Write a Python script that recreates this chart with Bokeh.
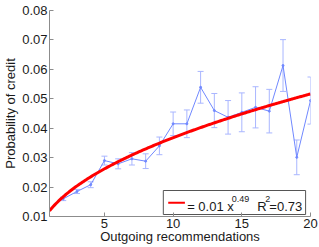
import numpy as np
from bokeh.plotting import figure
from bokeh.models import Range1d, FixedTicker, ColumnDataSource, Whisker, TeeHead
from bokeh.core.properties import value
from bokeh.embed import file_html
from bokeh.resources import INLINE

# ---- data ----
recommendations = [2, 3, 4, 5, 6, 7, 8, 9, 10, 11, 12, 13, 14, 15, 16, 17, 18, 19, 20]
prob_credit = [0.0160, 0.0185, 0.0208, 0.0290, 0.0279, 0.0296, 0.0288, 0.0340, 0.0415,
               0.0415, 0.0539, 0.0460, 0.0437, 0.0454, 0.0471, 0.0458, 0.0613, 0.0301, 0.0494]
prob_err = [0.0006, 0.0007, 0.0010, 0.0015, 0.0017, 0.0021, 0.0025, 0.0030, 0.0040,
            0.0047, 0.0054, 0.0058, 0.0057, 0.0066, 0.0070, 0.0074, 0.0088, 0.0059, 0.0080]
fit_coef = 0.0119
fit_exp = 0.49
fit_r2 = 0.73
fit_label_coef = "0.01"
x_ticks = [5, 10, 15, 20]
y_ticks = [0.01, 0.02, 0.03, 0.04, 0.05, 0.06, 0.07, 0.08]
x_label = "Outgoing recommendations"
y_label = "Probability of credit"

FONT = "Liberation Sans"
AXIS_COL = "#8c8c8c"
TXT_COL = "#1a1a1a"
LINE_COL = "#7088ff"
ERR_COL = "#a9b6ff"

W, H = 319, 247
BL, BR, BT, BB = 44, 9, 10, 31
X0, X1, Y0, Y1 = 1, 20, 0.01, 0.08
FW, FH = W - BL - BR, H - BT - BB
pxx = FW / (X1 - X0)   # pixels per x unit
pxy = FH / (Y1 - Y0)   # pixels per y unit

p = figure(width=W, height=H, output_backend="svg", toolbar_location=None,
           x_range=Range1d(X0, X1), y_range=Range1d(Y0, Y1),
           min_border_left=BL, min_border_right=BR, min_border_top=BT, min_border_bottom=BB)
p.outline_line_color = None
p.grid.visible = False
p.background_fill_color = "white"

for ax in (p.xaxis[0], p.yaxis[0]):
    ax.axis_line_color = AXIS_COL
    ax.major_tick_line_color = AXIS_COL
    ax.major_tick_in = 4
    ax.major_tick_out = 0
    ax.minor_tick_line_color = None
    ax.major_label_text_font = FONT
    ax.major_label_text_font_size = "13px"
    ax.major_label_text_color = TXT_COL
    ax.major_label_standoff = 2
    ax.axis_label_text_font = FONT
    ax.axis_label_text_font_size = "13px"
    ax.axis_label_text_font_style = "normal"
    ax.axis_label_text_color = TXT_COL

p.xaxis[0].ticker = FixedTicker(ticks=x_ticks)
p.yaxis[0].ticker = FixedTicker(ticks=y_ticks)
p.xaxis[0].axis_label = x_label
p.yaxis[0].axis_label = y_label
p.xaxis[0].axis_label_standoff = -2
p.yaxis[0].axis_label_standoff = 1

src = ColumnDataSource(dict(
    x=recommendations, y=prob_credit,
    lo=[v - e for v, e in zip(prob_credit, prob_err)],
    hi=[v + e for v, e in zip(prob_credit, prob_err)],
))

p.add_layout(Whisker(source=src, base="x", upper="hi", lower="lo",
                     line_color=ERR_COL, line_width=1,
                     upper_head=TeeHead(size=6, line_color=ERR_COL, line_width=1),
                     lower_head=TeeHead(size=6, line_color=ERR_COL, line_width=1)))
p.line("x", "y", source=src, line_color=LINE_COL, line_width=1)
p.scatter("x", "y", source=src, size=2, color=LINE_COL)

xs = np.linspace(X0, X1, 200)
p.line(xs, fit_coef * xs ** fit_exp, line_color="#ff0000", line_width=3)

# ---- legend box (pixel distances from the frame's bottom-right) ----
bx1 = X1 - 5 / pxx
bx0 = bx1 - 145 / pxx
by0 = Y0 + 2 / pxy
by1 = Y0 + 26 / pxy
p.quad(left=[bx0], right=[bx1], bottom=[by0], top=[by1],
       fill_color="white", line_color="#555555", line_width=1)
ly = Y0 + 13.7 / pxy
p.line([bx0 + 5 / pxx, bx0 + 22 / pxx], [ly, ly], line_color="#ff0000", line_width=2)

mid_y = Y0 + 10.0 / pxy
sup_mid_y = Y0 + 18.0 / pxy
tx = bx0 + 24.3 / pxx
pieces = [("= %s x" % fit_label_coef, 0, mid_y, "13px"),
          ("%.2f" % fit_exp, 44.7, sup_mid_y, "9px"),
          ("R", 70.2, mid_y, "13px"),
          ("2", 78.2, sup_mid_y, "9px"),
          ("=%.2f" % fit_r2, 82.2, mid_y, "13px")]
for txt, off, yy, fs in pieces:
    p.text(x=[tx], y=[yy], text=[txt], x_offset=off,
           text_font=value(FONT), text_font_size=value(fs),
           text_baseline="middle", text_align="left", text_color=TXT_COL)

open("out.html", "w").write(file_html(p, INLINE))
